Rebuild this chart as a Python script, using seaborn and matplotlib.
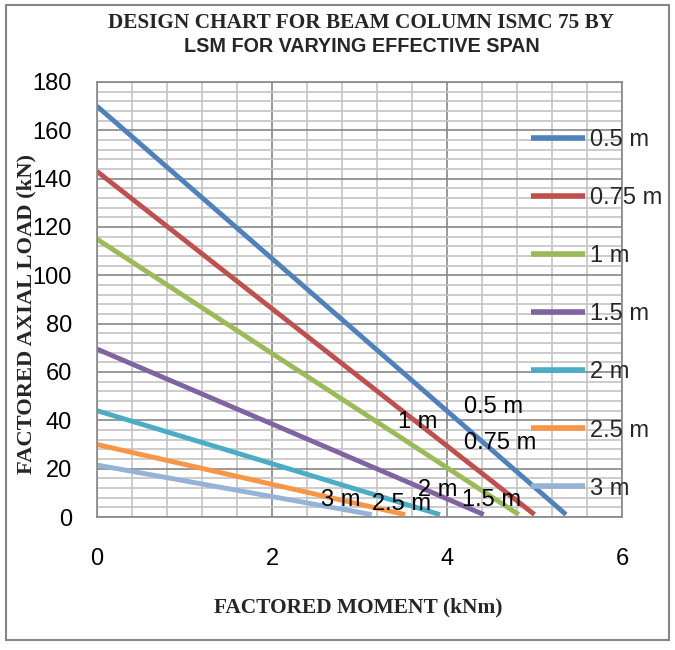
import matplotlib
matplotlib.use("Agg")
import matplotlib.pyplot as plt
import seaborn as sns
import pandas as pd
from matplotlib.patches import Rectangle
from matplotlib.ticker import MultipleLocator

spans = ["0.5 m", "0.75 m", "1 m", "1.5 m", "2 m", "2.5 m", "3 m"]
moment_start = [0, 0, 0, 0, 0, 0, 0]
moment_end = [5.36, 5.0, 4.82, 4.42, 3.92, 3.52, 3.14]
load_start = [170, 143, 115, 69.5, 44, 30, 21.5]
load_end = [1, 1, 1, 1, 1, 1, 1]
colors = ["#4F81BD", "#C0504D", "#9BBB59", "#8064A2", "#4BACC6", "#F79646", "#95B3D7"]

# data-label positions (text placement)
label_x = [4.53, 4.61, 3.66, 4.51, 3.89, 3.48, 2.78]
label_y = [45.5, 30.6, 39.3, 7.0, 11.2, 5.4, 7.0]

rows = []
for s, m0, m1, p0, p1 in zip(spans, moment_start, moment_end, load_start, load_end):
    rows.append({"span": s, "moment": m0, "load": p0})
    rows.append({"span": s, "moment": m1, "load": p1})
df = pd.DataFrame(rows)

sns.set_theme(style="white")
plt.rcParams['font.family'] = ['Liberation Sans', 'DejaVu Sans']

fig = plt.figure(figsize=(6.75, 6.5), dpi=100)
ax = fig.add_axes([97/675, 1-517/650, (622-97)/675, (517-82)/650])

sns.lineplot(data=df, x="moment", y="load", hue="span", palette=colors,
             hue_order=spans, linewidth=3.5, ax=ax, sort=False,
             solid_capstyle="butt")

ax.set_xlim(0, 6)
ax.set_ylim(0, 180)
ax.xaxis.set_major_locator(MultipleLocator(2))
ax.xaxis.set_minor_locator(MultipleLocator(0.4))
ax.yaxis.set_major_locator(MultipleLocator(20))
ax.yaxis.set_minor_locator(MultipleLocator(4))
ax.grid(True, which="minor", color="#C4C4C4", linewidth=1.2)
ax.grid(True, which="major", color="#878787", linewidth=1.2)
ax.set_axisbelow(True)
for sp in ax.spines.values():
    sp.set_color("#878787")
    sp.set_linewidth(1.2)
ax.tick_params(axis="both", which="both", length=0, labelsize=17, colors="black")
ax.tick_params(axis="x", pad=22)
ax.tick_params(axis="y", pad=18)
ax.set_xlabel("")
ax.set_ylabel("")

for s, lx, ly in zip(spans, label_x, label_y):
    ax.text(lx, ly, s, fontsize=17, ha="center", va="center", color="black")

leg = ax.legend(loc="upper left", bbox_to_anchor=((531-97)/525, 1-(129-82)/435),
                frameon=False, fontsize=17, handlelength=2.3, handletextpad=0.2,
                labelspacing=1.53, borderaxespad=0, borderpad=0)
for h in leg.get_lines():
    h.set_linewidth(4)

fig.text(361/675, 1-22.5/650, "DESIGN CHART FOR BEAM COLUMN ISMC 75 BY",
         ha="center", va="center", fontsize=15.3, fontweight="bold",
         family=["Liberation Serif", "DejaVu Serif"])
fig.text(362/675, 1-46/650, "LSM FOR VARYING EFFECTIVE SPAN",
         ha="center", va="center", fontsize=14.2, fontweight="bold",
         family=["Liberation Sans", "DejaVu Sans"])
fig.text(358/675, 1-607/650, "FACTORED MOMENT (kNm)",
         ha="center", va="center", fontsize=15.4, fontweight="bold",
         family=["Liberation Serif", "DejaVu Serif"])
fig.text(26/675, 1-314/650, "FACTORED AXIAL LOAD (kN)", rotation=90,
         ha="center", va="center", fontsize=16.2, fontweight="bold",
         family=["Liberation Serif", "DejaVu Serif"])

fig.patches.append(Rectangle((6/675, 10/650), 663/675, 635/650, transform=fig.transFigure,
                             fill=False, edgecolor="#868686", linewidth=1.5))

fig.savefig("out.png", dpi=100)
